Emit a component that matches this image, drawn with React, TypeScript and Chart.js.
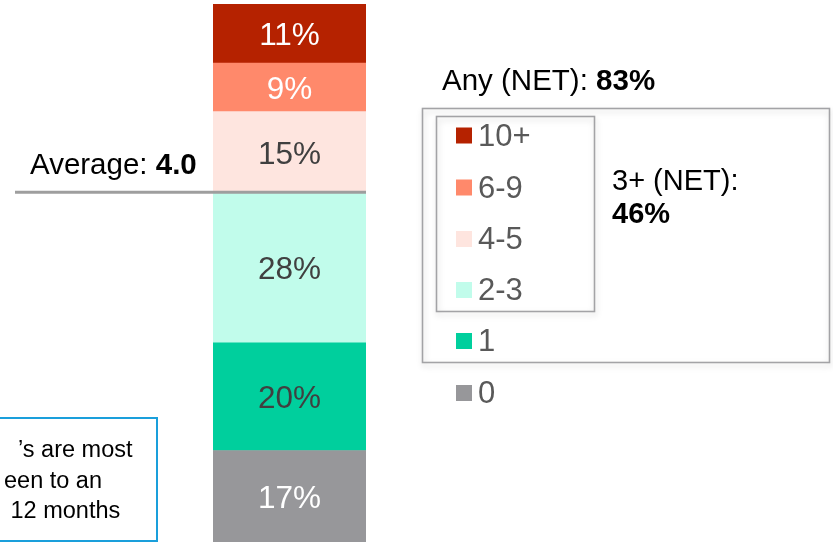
import React, { useEffect, useRef } from "react";
import { Chart, registerables } from "chart.js";

Chart.register(...registerables);

const categories = ["Total"];
const seriesLabels = ["0", "1", "2-3", "4-5", "6-9", "10+"];
const seriesValues = [17, 20, 28, 15, 9, 11];
const seriesColors = ["#97979A", "#00CF9D", "#C1FCEB", "#FEE5DF", "#FF896B", "#B52200"];
const labelColors = ["#FFFFFF", "#404040", "#404040", "#404040", "#FFFFFF", "#FFFFFF"];
const averageValue = "4.0";
const anyNet = "83%";
const threePlusNet = "46%";
const noteLines = ["\u2019s are most", "een to an", " 12 months"];

const FONT = "'Liberation Sans', Arial, sans-serif";

const overlayPlugin = {
  id: "overlay",
  afterDatasetsDraw(chart: any) {
    const ctx = chart.ctx as CanvasRenderingContext2D;
    const yScale = chart.scales.y;
    ctx.save();
    // segment labels
    chart.data.datasets.forEach((ds: any, i: number) => {
      const meta = chart.getDatasetMeta(i);
      meta.data.forEach((bar: any) => {
        const cy = (bar.y + bar.base) / 2;
        ctx.font = `31.5px ${FONT}`;
        ctx.fillStyle = labelColors[i];
        ctx.textAlign = "center";
        ctx.textBaseline = "middle";
        ctx.fillText(`${ds.data[0]}%`, bar.x, cy + 3);
      });
    });

    // average line at boundary between 2-3 and 4-5
    const cum = seriesValues[0] + seriesValues[1] + seriesValues[2];
    const ly = yScale.getPixelForValue(cum);
    ctx.strokeStyle = "#9E9E9E";
    ctx.lineWidth = 3;
    ctx.beginPath();
    ctx.moveTo(15, ly);
    ctx.lineTo(chart.chartArea.right, ly);
    ctx.stroke();

    ctx.textAlign = "left";
    ctx.textBaseline = "alphabetic";
    ctx.fillStyle = "#000000";
    ctx.font = `29.5px ${FONT}`;
    const avgTxt = "Average: ";
    ctx.fillText(avgTxt, 30, 174);
    const w = ctx.measureText(avgTxt).width;
    ctx.font = `bold 29.5px ${FONT}`;
    ctx.fillText(averageValue, 30 + w, 174);

    // Any (NET)
    ctx.font = `29.5px ${FONT}`;
    const anyTxt = "Any (NET): ";
    ctx.fillText(anyTxt, 442, 90);
    const w2 = ctx.measureText(anyTxt).width;
    ctx.font = `bold 29.5px ${FONT}`;
    ctx.fillText(anyNet, 442 + w2, 90);

    // boxes with shadow
    const drawBox = (x: number, y: number, bw: number, bh: number) => {
      ctx.save();
      ctx.shadowColor = "rgba(0,0,0,0.18)";
      ctx.shadowBlur = 6;
      ctx.shadowOffsetX = 1;
      ctx.shadowOffsetY = 3;
      ctx.strokeStyle = "#A3A3A6";
      ctx.lineWidth = 1.6;
      ctx.strokeRect(x, y, bw, bh);
      ctx.restore();
    };
    drawBox(422.5, 108.5, 407, 254);
    drawBox(436.5, 116.5, 158, 195);

    // 3+ (NET)
    ctx.fillStyle = "#000000";
    ctx.font = `29px ${FONT}`;
    ctx.fillText("3+ (NET):", 612, 190);
    ctx.font = `bold 29px ${FONT}`;
    ctx.fillText(threePlusNet, 612, 223);

    // legend items (top to bottom = reversed series)
    const itemYs = [135.5, 187.5, 239, 290, 341, 393];
    for (let k = 0; k < seriesLabels.length; k++) {
      const idx = seriesLabels.length - 1 - k;
      const cy = itemYs[k];
      ctx.fillStyle = seriesColors[idx];
      ctx.fillRect(456, cy - 8, 16, 16);
      ctx.fillStyle = "#595959";
      ctx.font = `31px ${FONT}`;
      ctx.textBaseline = "middle";
      ctx.fillText(seriesLabels[idx], 478, cy + 1.5);
    }

    // left note box (cut off)
    ctx.strokeStyle = "#1A9FDB";
    ctx.lineWidth = 2;
    ctx.strokeRect(-5, 418, 162, 123);
    ctx.fillStyle = "#000000";
    ctx.font = `23.5px ${FONT}`;
    ctx.textBaseline = "alphabetic";
    const noteXs = [18, 4, 4];
    const noteYs = [457, 488, 518];
    noteLines.forEach((t, i) => ctx.fillText(t, noteXs[i], noteYs[i]));

    ctx.restore();
  },
};

export default function App() {
  const canvasRef = useRef<HTMLCanvasElement | null>(null);
  useEffect(() => {
    document.body.style.margin = "0";
    const canvas = canvasRef.current!;
    const chart = new Chart(canvas, {
      type: "bar",
      data: {
        labels: categories,
        datasets: seriesLabels.map((lab, i) => ({
          label: lab,
          data: [seriesValues[i]],
          backgroundColor: seriesColors[i],
          borderWidth: 0,
          barPercentage: 1,
          categoryPercentage: 1,
        })),
      },
      options: {
        responsive: false,
        animation: false,
        layout: { padding: { left: 213, right: 467, top: 4, bottom: 0 } },
        plugins: { legend: { display: false }, tooltip: { enabled: false } },
        scales: {
          x: { stacked: true, display: false },
          y: { stacked: true, display: false, min: 0, max: 100 },
        },
      },
      plugins: [overlayPlugin],
    });
    return () => chart.destroy();
  }, []);
  return <canvas ref={canvasRef} width={833} height={542} style={{ display: "block" }} />;
}
